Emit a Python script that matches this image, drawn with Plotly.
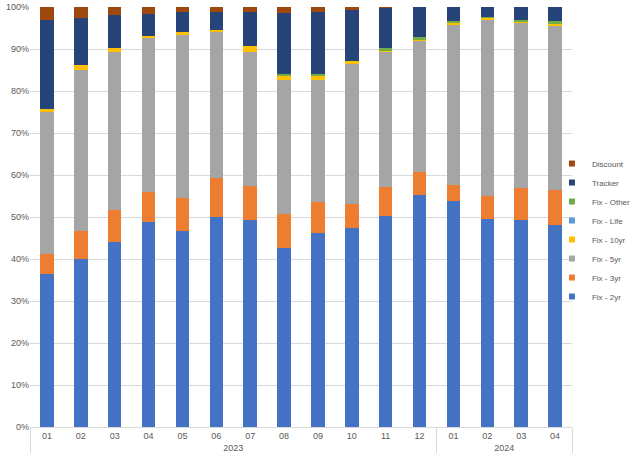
import plotly.graph_objects as go

years = ["2023"] * 12 + ["2024"] * 4
months = ["01", "02", "03", "04", "05", "06", "07", "08", "09", "10", "11", "12",
          "01", "02", "03", "04"]

fix_2yr = [36.5, 40.0, 44.1, 48.8, 46.6, 49.9, 49.2, 42.7, 46.1, 47.4, 50.2, 55.2, 53.8, 49.6, 49.4, 48.1]
fix_3yr = [4.7, 6.6, 7.5, 7.1, 7.9, 9.3, 8.2, 8.1, 7.4, 5.7, 7.0, 5.4, 3.9, 5.3, 7.5, 8.3]
fix_5yr = [33.8, 38.4, 37.6, 36.7, 38.8, 34.9, 32.0, 31.8, 29.2, 33.3, 32.2, 31.4, 37.9, 42.1, 39.3, 39.3]
fix_10yr = [0.8, 1.2, 1.1, 0.5, 0.8, 0.5, 1.3, 0.9, 0.8, 0.8, 0.2, 0.1, 0.6, 0.4, 0.3, 0.3]
fix_life = [0, 0, 0, 0, 0, 0, 0, 0, 0, 0, 0, 0, 0, 0, 0, 0]
fix_other = [0, 0, 0, 0, 0, 0, 0, 0.5, 0.5, 0, 0.6, 0.7, 0.5, 0.2, 0.5, 0.7]
tracker = [21.2, 11.2, 7.9, 5.3, 4.6, 4.3, 8.0, 14.5, 14.8, 12.0, 9.6, 7.2, 3.3, 2.4, 3.0, 3.3]
discount = [3.0, 2.6, 1.8, 1.6, 1.3, 1.1, 1.3, 1.5, 1.2, 0.8, 0.2, 0.1, 0.0, 0.0, 0.0, 0.0]

series = [
    ("Fix - 2yr", fix_2yr, "#4472C4"),
    ("Fix - 3yr", fix_3yr, "#ED7D31"),
    ("Fix - 5yr", fix_5yr, "#A5A5A5"),
    ("Fix - 10yr", fix_10yr, "#FFC000"),
    ("Fix - Life", fix_life, "#5B9BD5"),
    ("Fix - Other", fix_other, "#70AD47"),
    ("Tracker", tracker, "#264478"),
    ("Discount", discount, "#9E480E"),
]

fig = go.Figure()
for name, vals, color in series:
    fig.add_trace(go.Bar(
        x=[years, months], y=vals, name=name, legendgroup=name,
        showlegend=False,
        marker=dict(color=color, line=dict(width=0)),
    ))
# small square legend keys (legend entries only)
for name, vals, color in series:
    fig.add_trace(go.Scatter(
        x=[[None], [None]], y=[None], mode="markers", name=name, legendgroup=name,
        marker=dict(symbol="square", size=6, color=color),
        hoverinfo="skip",
    ))

font_family = "Liberation Sans, Arial, sans-serif"
fig.update_layout(
    width=634, height=464,
    barmode="stack", bargap=0.6,
    plot_bgcolor="white", paper_bgcolor="white",
    margin=dict(l=30, r=62, t=7, b=37, autoexpand=False),
    font=dict(family=font_family, size=9, color="#595959"),
    legend=dict(
        x=0.963, y=0.469, xanchor="left", yanchor="middle",
        traceorder="reversed", font=dict(size=8, color="#595959"),
        tracegroupgap=0, itemwidth=30, bgcolor="rgba(0,0,0,0)",
    ),
    yaxis=dict(
        range=[0, 100], dtick=10, ticksuffix="%",
        showgrid=True, gridcolor="#D9D9D9", gridwidth=1,
        zeroline=False, showline=False, ticks="",
        tickfont=dict(size=9, color="#595959"),
    ),
    xaxis=dict(
        type="multicategory",
        showline=True, linecolor="#D9D9D9", linewidth=1,
        showdividers=True, dividercolor="#D9D9D9", dividerwidth=1,
        tickfont=dict(size=9, color="#595959"),
        showgrid=False,
    ),
)

fig.write_html("out.html", config={"displayModeBar": False},
               post_script="document.body.style.margin='0';")
